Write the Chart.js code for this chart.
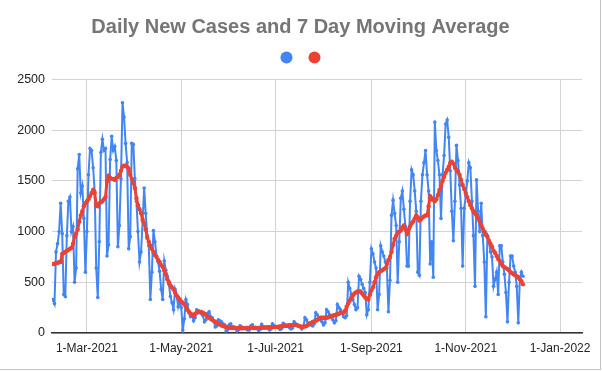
<!DOCTYPE html>
<html>
<head>
<meta charset="utf-8">
<script src="https://cdn.jsdelivr.net/npm/chart.js@4.4.0/dist/chart.umd.min.js"></script>
<style>
  html, body { margin: 0; padding: 0; background: #fff; }
  #wrap { position: relative; width: 602px; height: 371px; }
  #frame { position: absolute; left: 0; top: 0; width: 601px; height: 370px; box-sizing: border-box;
           border-right: 1px solid #c4c4c4; border-bottom: 1px solid #c4c4c4; pointer-events: none; }
</style>
</head>
<body>
<div id="wrap"><canvas id="casesChart"></canvas><div id="frame"></div></div>
<script>
// --- DATA ---
// x is day of year (0 = 1-Jan-2021); first reading is 6-Feb-2021
const firstDay = 37;

const tickDays = [59, 120, 181, 243, 304, 365];
const tickLabels = ['1-Mar-2021', '1-May-2021', '1-Jul-2021', '1-Sep-2021', '1-Nov-2021', '1-Jan-2022'];
const yTicks = [0, 500, 1000, 1500, 2000, 2500];

// daily new cases, one row per week
const dailyCases = [
  330, 290, 800, 880, 1000, 1280, 980,
  380, 360, 960, 1300, 1340, 1000, 1050,
  500, 640, 1620, 1760, 1380, 1450, 1130,
  600, 1000, 1560, 1820, 1800, 1630, 1400,
  640, 350, 900, 1780, 1910, 1800, 1820,
  760, 870, 1710, 1940, 1800, 1840, 1700,
  850, 1060, 1520, 2270, 2130, 1870, 1680,
  830, 950, 1870, 1860, 1520, 1300, 1000,
  700, 800, 1100, 1430, 1180, 960, 860,
  330, 600, 1010, 900, 760, 700, 610,
  430, 330, 710, 620, 560, 480, 360,
  300, 230, 430, 370, 260, 320, 250,
  30, 140, 330, 280, 200, 160, 180,
  120, 150, 230, 220, 200, 190, 170,
  110, 130, 190, 210, 160, 150, 120,
  60, 70, 130, 120, 110, 90, 80,
  20, 30, 80, 90, 60, 60, 50,
  20, 30, 70, 60, 50, 45, 40,
  30, 30, 70, 80, 50, 55, 45,
  25, 35, 85, 60, 55, 50, 50,
  30, 40, 90, 70, 60, 60, 50,
  35, 45, 95, 80, 70, 65, 55,
  40, 50, 110, 90, 80, 70, 60,
  40, 60, 150, 130, 100, 90, 80,
  70, 90, 200, 180, 150, 130, 110,
  80, 100, 230, 210, 180, 160, 130,
  100, 120, 280, 250, 230, 200, 160,
  150, 170, 500, 440, 380, 330, 280,
  230, 250, 560, 530, 480, 440, 400,
  180, 230, 500, 830, 780, 700, 640,
  230, 380, 860, 800, 760, 700, 640,
  210, 520, 1160, 1310, 1180, 1060, 500,
  900, 1330, 1400, 1220, 1050, 660, 660,
  1300, 1610, 1560, 1400, 1200, 600, 570,
  1300, 1560, 1680, 1800, 1560, 1400, 680,
  900, 550, 2080, 1800, 1700, 1560, 1130,
  1560, 1750, 2060, 2100, 1930, 1600, 1200,
  910, 1300, 1850, 1700, 1460, 1230, 660,
  1230, 1350, 1500, 1680, 1630, 1300, 960,
  460, 1510, 1200, 1000, 1280, 960, 700,
  160, 960, 910, 800, 750, 460, 530,
  600, 380, 860, 860, 700, 580, 400,
  110, 500, 760, 760, 660, 600, 460,
  100, 530, 600, 560
];

// 7 day moving average as drawn (red line)
const movingAvg = [
  680, 680, 690, 690, 700, 700, 780,
  790, 800, 810, 820, 830, 840, 880,
  950, 980, 1020, 1100, 1160, 1200, 1250,
  1280, 1300, 1320, 1350, 1380, 1410, 1380,
  1260, 1250, 1280, 1290, 1300, 1320, 1340,
  1500, 1550, 1530, 1520, 1520, 1510, 1530,
  1540, 1560, 1600, 1640, 1650, 1650, 1640,
  1620, 1560, 1520, 1480, 1430, 1330, 1260,
  1220, 1180, 1120, 1080, 1020, 940, 900,
  860, 830, 800, 770, 750, 720, 700,
  670, 650, 620, 580, 530, 500, 470,
  450, 430, 400, 370, 350, 330, 310,
  300, 280, 260, 230, 210, 190, 180,
  170, 190, 200, 210, 210, 205, 200,
  190, 180, 160, 150, 140, 130, 120,
  110, 100, 90, 85, 75, 70, 65,
  60, 55, 55, 50, 50, 50, 50,
  48, 48, 47, 47, 48, 48, 49,
  49, 50, 50, 50, 50, 50, 50,
  51, 52, 52, 53, 54, 55, 56,
  57, 58, 58, 59, 60, 60, 62,
  64, 66, 68, 70, 72, 74, 76,
  78, 80, 80, 80, 75, 70, 65,
  62, 62, 65, 70, 80, 90, 100,
  110, 115, 120, 130, 140, 150, 150,
  150, 150, 150, 155, 160, 165, 170,
  175, 180, 185, 190, 200, 200, 200,
  220, 260, 290, 320, 350, 370, 390,
  400, 410, 410, 410, 390, 370, 350,
  340, 330, 380, 420, 450, 500, 550,
  580, 600, 610, 620, 630, 640, 680,
  720, 750, 800, 870, 930, 960, 990,
  1000, 1010, 1040, 1060, 1020, 980, 1020,
  1050, 1080, 1100, 1130, 1160, 1140, 1110,
  1120, 1140, 1150, 1160, 1160, 1250, 1350,
  1330, 1310, 1300, 1320, 1360, 1410, 1450,
  1500, 1540, 1580, 1610, 1640, 1680, 1690,
  1670, 1630, 1610, 1590, 1560, 1510, 1460,
  1420, 1380, 1340, 1300, 1260, 1230, 1200,
  1180, 1160, 1130, 1100, 1060, 1030, 1000,
  970, 950, 910, 880, 850, 810, 790,
  760, 730, 710, 680, 660, 650, 640,
  630, 620, 600, 590, 580, 570, 560,
  550, 530, 510, 480
];

const BLUE = '#4285F4';
const RED = '#EA4335';
const FONT = "'Liberation Sans', Arial, sans-serif";

function toPoints(values) {
  return values.map((v, i) => ({ x: firstDay + i, y: v }));
}

// title and legend are centred on the full canvas width, not the padded one
const centreHeader = {
  id: 'centreHeader',
  afterLayout(c) {
    c.titleBlock.left += 9.5; c.titleBlock.right += 9.5;
    c.legend.left += 15.5; c.legend.right += 15.5;
  }
};

// --- CHART ---
const ctx = document.getElementById('casesChart').getContext('2d');
const chart = new Chart(ctx, {
  type: 'line',
  data: {
    datasets: [
      {
        label: '',
        data: toPoints(dailyCases),
        borderColor: BLUE,
        backgroundColor: BLUE,
        borderWidth: 2,
        pointRadius: 1.8,
        pointBorderWidth: 0,
        order: 2
      },
      {
        label: '',
        data: toPoints(movingAvg),
        borderColor: RED,
        backgroundColor: RED,
        borderWidth: 3,
        pointRadius: 2.2,
        pointBorderWidth: 0,
        order: 1
      }
    ]
  },
  plugins: [centreHeader],
  options: {
    responsive: true,
    maintainAspectRatio: false,
    animation: false,
    layout: { padding: { left: 0, right: 20, top: 0, bottom: 0 } },
    elements: { line: { tension: 0 } },
    plugins: {
      title: {
        display: true,
        text: 'Daily New Cases and 7 Day Moving Average',
        color: '#757575',
        font: { family: FONT, size: 20, weight: 'bold' },
        padding: { top: 15.5, bottom: 0 }
      },
      legend: {
        labels: {
          usePointStyle: true,
          pointStyle: 'circle',
          boxWidth: 10,
          boxHeight: 8.5,
          padding: 6,
          font: { family: FONT, size: 24 },
          sort: (a, b) => a.datasetIndex - b.datasetIndex,
          generateLabels: (c) => Chart.defaults.plugins.legend.labels.generateLabels(c)
            .map(l => Object.assign(l, { lineWidth: 0, pointStyle: 'circle' }))
        }
      },
      tooltip: { enabled: false }
    },
    scales: {
      x: {
        type: 'linear',
        min: 36.4,
        max: 379.2,
        afterBuildTicks: (scale) => { scale.ticks = tickDays.map(v => ({ value: v })); },
        afterFit: (scale) => { scale.height = 38; },
        grid: { color: '#d3d3d3', drawTicks: false },
        border: { color: '#333', width: 1.5 },
        ticks: {
          autoSkip: false,
          maxRotation: 0,
          padding: 8,
          color: '#222',
          font: { family: FONT, size: 12 },
          callback: (value) => tickLabels[tickDays.indexOf(value)]
        }
      },
      y: {
        min: 0,
        max: 2500,
        afterBuildTicks: (scale) => { scale.ticks = yTicks.map(v => ({ value: v })); },
        afterFit: (scale) => { scale.width = 52; },
        grid: { color: '#d3d3d3', drawTicks: false },
        border: { display: false },
        ticks: {
          padding: 7,
          color: '#222',
          font: { family: FONT, size: 12.5 },
          callback: (value) => String(value)
        }
      }
    }
  }
});
</script>
</body>
</html>
